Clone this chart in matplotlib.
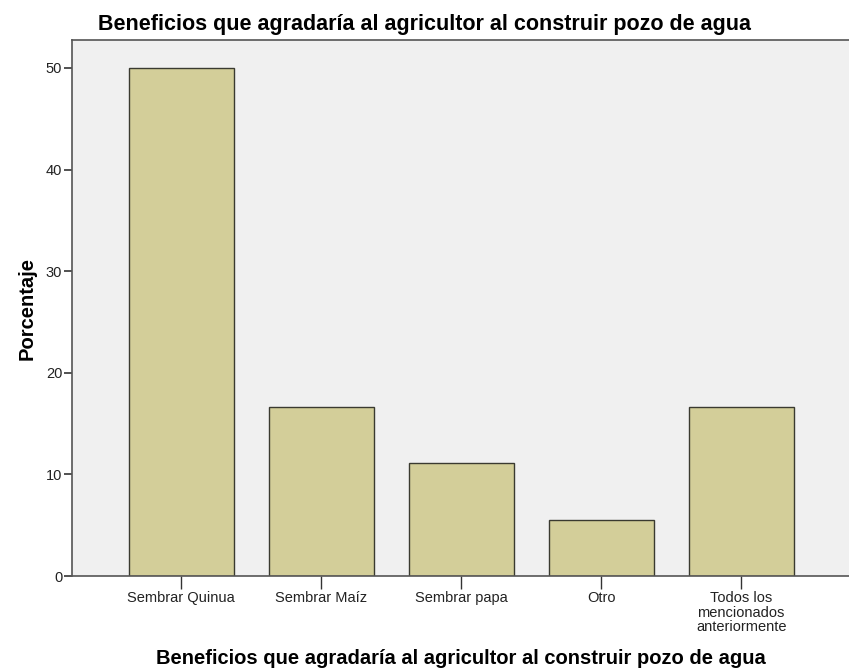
import matplotlib
matplotlib.use('Agg')
from matplotlib import pyplot as plt

categories = ['Sembrar Quinua', 'Sembrar Maíz', 'Sembrar papa', 'Otro',
              'Todos los\nmencionados\nanteriormente']
porcentaje = [50.0, 16.67, 11.11, 5.56, 16.67]
y_ticks = [0, 10, 20, 30, 40, 50]
title = 'Beneficios que agradaría al agricultor al construir pozo de agua'

plt.rcParams['font.family'] = ['Liberation Sans', 'DejaVu Sans']

fig = plt.figure(figsize=(8.49, 6.68), dpi=100)
ax = fig.add_axes([72 / 849, 92 / 668, 1 - 72 / 849, 536 / 668])
ax.set_facecolor('#F0F0F0')

x = range(len(categories))
ax.bar(x, porcentaje, width=0.75, color='#D3CE99', edgecolor='#3A3A30',
       linewidth=1.0, zorder=2)

ax.set_xlim(-0.78, 4.77)
ax.set_ylim(0, 52.75)
ax.set_yticks(y_ticks)
ax.set_xticks(list(x))
ax.set_xticklabels(categories, fontsize=10.5, linespacing=1.05,
                   color='#222222')
ax.tick_params(axis='y', direction='out', length=6, width=1.2,
               labelsize=10.5, pad=1, color='#333333', labelcolor='#222222')
ax.tick_params(axis='x', direction='out', length=9, width=1.0, pad=2,
               color='#333333')

for side in ['left', 'top', 'bottom']:
    ax.spines[side].set_color('#555555')
    ax.spines[side].set_linewidth(1.2)
ax.spines['right'].set_visible(False)

ax.set_ylabel('Porcentaje', fontsize=14.5, fontweight='bold', labelpad=7)
ax.set_xlabel(title, fontsize=14.5, fontweight='bold', va='baseline')
ax.xaxis.set_label_coords(0.5, -(664 - 576) / 536)
fig.text(0.5, 1 - 30 / 668, title, ha='center', va='baseline',
         fontsize=15.5, fontweight='bold')

plt.savefig('out.png', dpi=100)
